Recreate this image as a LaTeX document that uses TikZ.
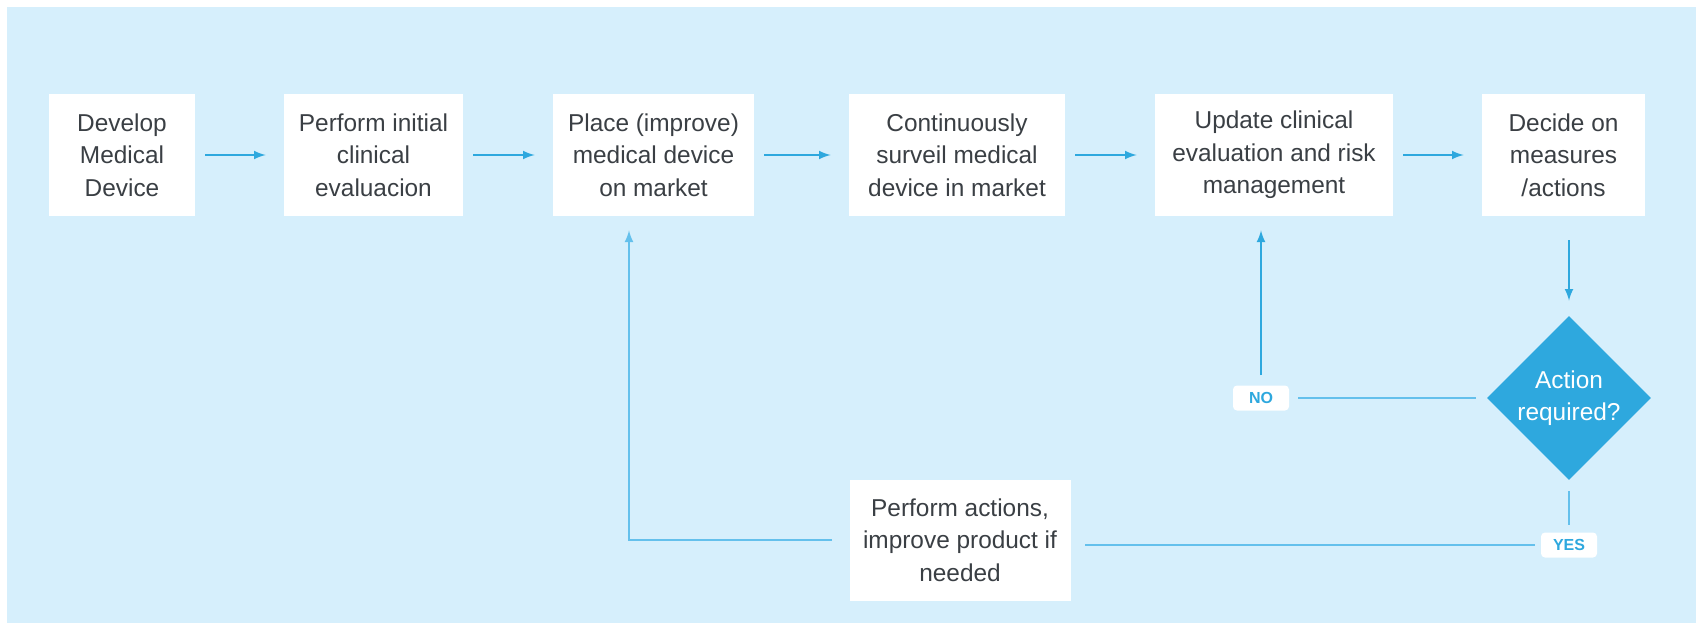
\documentclass[tikz,border=0pt]{standalone}
\usepackage{fontspec}
\setmainfont{Liberation Sans}
\usepackage{tikz}
\usetikzlibrary{arrows,shapes,positioning,shadows}
\usepackage{xcolor}
\definecolor{mdbg}{RGB}{214,239,252}
\definecolor{mdblue}{RGB}{46,168,222}
\definecolor{mdline}{RGB}{100,192,236}
\definecolor{mdtext}{RGB}{58,63,68}
\tikzstyle{stepbox} = [fill=white, text=mdtext, align=center, minimum height=61pt, inner sep=0pt, font=\fontsize{12.2}{16.3}\selectfont]
\tikzstyle{arrow} = [line width=1pt,->,>=latex,color=mdblue,shorten <=5pt,shorten >=9pt]
\tikzstyle{link} = [line width=1pt,color=mdline]
\tikzstyle{tag} = [fill=white, rounded corners=2pt, text=mdblue, font=\fontsize{8}{9}\selectfont\bfseries, minimum width=28pt, minimum height=12.5pt, inner sep=0pt]

\begin{document}
\begin{tikzpicture}[x=0.5pt, y=-0.5pt]
\useasboundingbox (0,0) rectangle (1696,623);
\fill[mdbg] (7,7) rectangle (1696,623);

% Main row of steps
\node[stepbox, minimum width=73pt] (dev) at (122,155) {Develop\\Medical\\Device};
\node[stepbox, minimum width=89.5pt] (init) at (373.5,155) {Perform initial\\clinical\\evaluacion};
\node[stepbox, minimum width=100.5pt] (place) at (653.5,155) {Place (improve)\\medical device\\on market};
\node[stepbox, minimum width=108pt] (surv) at (957,155) {Continuously\\surveil medical\\device in market};
\node[stepbox, minimum width=119pt] (upd) at (1274,155) {Update clinical\\evaluation and risk\\management};
\node[stepbox, minimum width=81.5pt] (decide) at (1563.5,155) {Decide on\\measures\\/actions};

% Decision
\node[diamond, fill=mdblue, text=white, align=center, inner sep=0pt, minimum width=82pt, minimum height=82pt, font=\fontsize{12.2}{16.3}\selectfont] (dec) at (1569,398) {Action\\required?};
\node[tag] (no) at (1261,398) {NO};
\node[tag] (yes) at (1569,545) {YES};
\node[stepbox, minimum width=110.5pt, minimum height=60.5pt] (act) at (960,540) {Perform actions,\\improve product if\\needed};
\coordinate (back) at (629,540);

% Connectors
\draw[arrow] (dev) -- (init);
\draw[arrow] (init) -- (place);
\draw[arrow] (place) -- (surv);
\draw[arrow] (surv) -- (upd);
\draw[arrow] (upd) -- (decide);
\draw[arrow, shorten <=12pt, shorten >=7.5pt] (decide.south -| dec) -- (dec.north);
\draw[link, shorten <=5.5pt, shorten >=4.5pt] (dec.west) -- (no.east);
\draw[arrow, shorten <=5pt, shorten >=7pt] (no.north) -- (no.north |- upd.south);
\draw[link, shorten <=5.5pt, shorten >=3.5pt] (dec.south) -- (yes.north);
\draw[link, shorten <=3pt, shorten >=7pt] (yes.west) -- (yes.west -| act.east);
\draw[arrow, color=mdline, shorten <=8.5pt, shorten >=7pt] (act.west) -- (back) -- (back |- place.south);
\end{tikzpicture}
\end{document}
